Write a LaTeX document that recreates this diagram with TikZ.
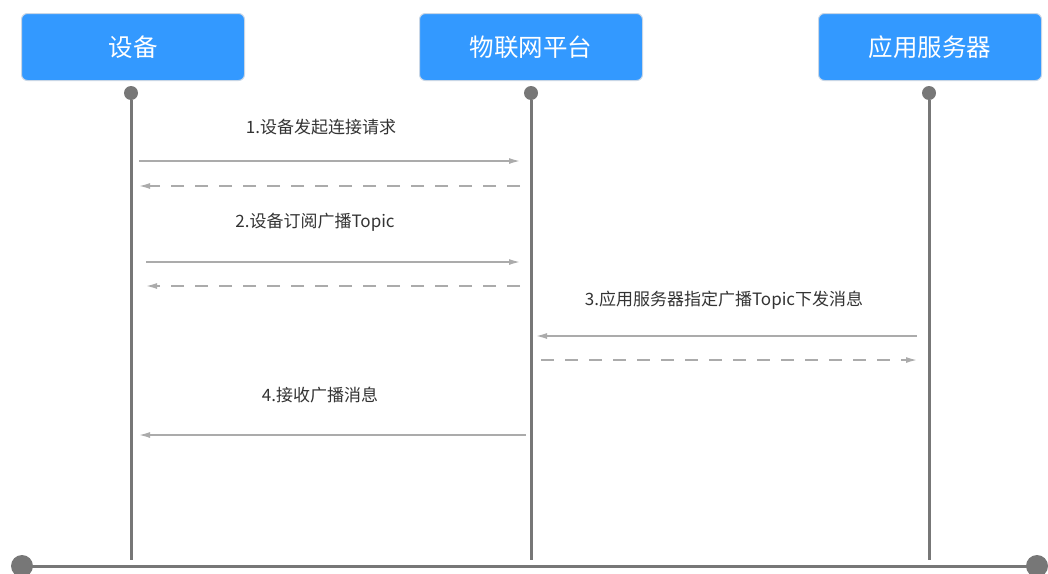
\documentclass[tikz,border=0pt]{standalone}
\usepackage{fontspec}
\setmainfont{Noto Sans CJK SC}
\usetikzlibrary{arrows.meta, positioning}
\definecolor{boxblue}{HTML}{3399FF}
\definecolor{boxedge}{HTML}{C8D6E6}
\definecolor{lifegray}{HTML}{777777}
\definecolor{msggray}{HTML}{ABABAB}
\definecolor{txtgray}{HTML}{333333}

\begin{document}
\begin{tikzpicture}[x=1pt, y=-1pt,
    actor/.style={rectangle, rounded corners=6pt, draw=boxedge, line width=1pt, fill=boxblue,
        minimum width=223pt, minimum height=67pt, text=white, font=\fontsize{24.5}{28}\selectfont},
    dot/.style={circle, fill=lifegray, inner sep=0pt, minimum size=14pt},
    life/.style={draw=lifegray, line width=3pt},
    msg/.style={-{Latex[length=11pt, width=6pt]}, draw=msggray, line width=1.4pt, color=msggray},
    reply/.style={msg, dash pattern=on 13pt off 11pt},
    label/.style={text=txtgray, font=\fontsize{17}{20}\selectfont}
]
    \useasboundingbox (0,0) rectangle (1048,573);
    % participants
    \node[actor] (dev) at (133,47) {设备};
    \node[actor] (iot) at (531,47) {物联网平台};
    \node[actor] (app) at (930,47) {应用服务器};
    \node[dot] (devtop) at (131,93) {};
    \node[dot] (iottop) at (531,93) {};
    \node[dot] (apptop) at (929,93) {};
    \coordinate (devend) at (131,560);
    \coordinate (iotend) at (531,560);
    \coordinate (append) at (929,560);
    \draw[life] (devtop) -- (devend);
    \draw[life] (iottop) -- (iotend);
    \draw[life] (apptop) -- (append);
    % time axis
    \node[dot, minimum size=22pt] (tstart) at (22,566) {};
    \node[dot, minimum size=22pt] (tend) at (1037,566) {};
    \draw[life] (tstart.center) -- (tend.center);
    % 1
    \node[label] (l1) at (321,127) {1.设备发起连接请求};
    \coordinate (a1) at (139,161); \coordinate (b1) at (520,161);
    \coordinate (a1r) at (139,186); \coordinate (b1r) at (520,186);
    \draw[msg] (a1) -- (b1);
    \draw[reply] (b1r) -- (a1r);
    % 2
    \node[label] (l2) at (315,222) {2.设备订阅广播Topic};
    \coordinate (a2) at (146,262); \coordinate (b2) at (520,262);
    \coordinate (a2r) at (146,286); \coordinate (b2r) at (520,286);
    \draw[msg] (a2) -- (b2);
    \draw[reply] (b2r) -- (a2r);
    % 3
    \node[label] (l3) at (724,300) {3.应用服务器指定广播Topic下发消息};
    \coordinate (c3) at (917,336); \coordinate (b3) at (536,336);
    \coordinate (b3r) at (541,360); \coordinate (c3r) at (917,360);
    \draw[msg] (c3) -- (b3);
    \draw[reply] (b3r) -- (c3r);
    % 4
    \node[label] (l4) at (320,395) {4.接收广播消息};
    \coordinate (b4) at (526,435); \coordinate (a4) at (139,435);
    \draw[msg] (b4) -- (a4);
\end{tikzpicture}
\end{document}
